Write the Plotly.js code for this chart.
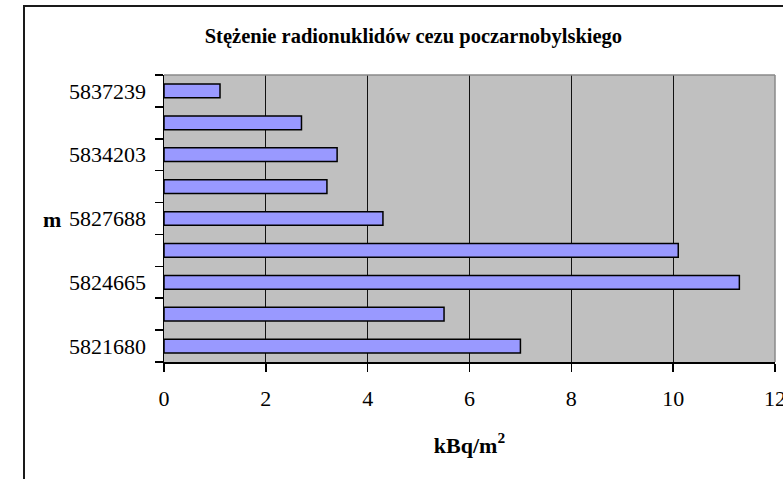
<!DOCTYPE html>
<html>
<head>
<meta charset="utf-8">
<script src="https://cdn.plot.ly/plotly-3.0.1.min.js"></script>
<style>
  html, body { margin: 0; padding: 0; background: #fff; }
  #wrap { position: relative; width: 783px; height: 479px; }
  #chart { width: 783px; height: 479px; }
  #frame { position: absolute; left: 23px; top: 5px; width: 800px; height: 500px;
           border-left: 2px solid #1a1a1a; border-top: 2px solid #1a1a1a; pointer-events: none; }
</style>
</head>
<body>
<div id="wrap">
  <div id="chart"></div>
  <div id="frame"></div>
</div>
<script>
// Data (bottom to top)
const categories = ["5821680", " ", "5824665", "  ", "5827688", "   ", "5834203", "    ", "5837239"];
const values = [7.0, 5.5, 11.3, 10.1, 4.3, 3.2, 3.4, 2.7, 1.1];
const xTicks = [0, 2, 4, 6, 8, 10, 12];
const titleText = "Stężenie radionuklidów cezu poczarnobylskiego";
const xTitle = "kBq/m<sup>2</sup>";
const yTitle = "m";

const serif = "'Liberation Serif', 'Times New Roman', serif";

const trace = {
  type: "bar",
  orientation: "h",
  x: values,
  y: categories,
  width: 0.43,
  marker: { color: "#9999FF", line: { color: "#000000", width: 1.5 } },
  hoverinfo: "skip"
};

const layout = {
  width: 783,
  height: 479,
  margin: { l: 164, r: 8, t: 75, b: 117 },
  paper_bgcolor: "#ffffff",
  plot_bgcolor: "#C0C0C0",
  showlegend: false,
  font: { family: serif, color: "#000", size: 22 },
  title: {
    text: "<b>" + titleText + "</b>",
    font: { family: serif, size: 20.5, color: "#000" },
    x: 0.528, xref: "container", xanchor: "center",
    y: 1 - 36 / 479, yref: "container", yanchor: "middle"
  },
  xaxis: {
    range: [0, 12],
    tickvals: xTicks,
    ticktext: xTicks.map(String),
    ticklabeloverflow: "allow",
    ticklabelstandoff: 8,
    showgrid: true,
    gridcolor: "#111",
    gridwidth: 1,
    zeroline: false,
    showline: true,
    linecolor: "#000",
    linewidth: 1.5,
    ticks: "outside",
    ticklen: 8,
    tickwidth: 1.5,
    tickcolor: "#000",
    tickfont: { family: serif, size: 22, color: "#000" },
    title: { text: "<b>" + xTitle + "</b>", font: { family: serif, size: 22, color: "#000" }, standoff: 27 },
    fixedrange: true
  },
  yaxis: {
    type: "category",
    categoryorder: "array",
    categoryarray: categories,
    range: [-0.5, 8.5],
    tickson: "boundaries",
    ticks: "outside",
    ticklen: 8,
    tickwidth: 1.5,
    tickcolor: "#000",
    showgrid: false,
    showline: true,
    linecolor: "#000",
    linewidth: 1.5,
    tickfont: { family: serif, size: 22, color: "#000" },
    ticklabelstandoff: 12,
    fixedrange: true
  },
  shapes: [
    { type: "line", xref: "paper", yref: "paper", x0: 0, x1: 1, y0: 1, y1: 1, line: { color: "#8a8a8a", width: 1.5 }, layer: "above" },
    { type: "line", xref: "paper", yref: "paper", x0: 1, x1: 1, y0: 0, y1: 1, line: { color: "#8a8a8a", width: 1.5 }, layer: "above" }
  ],
  annotations: [
    { text: "<b>" + yTitle + "</b>", xref: "paper", yref: "paper", x: -0.183, y: 0.495,
      xanchor: "center", yanchor: "middle", showarrow: false,
      font: { family: serif, size: 22, color: "#000" } }
  ]
};

Plotly.newPlot("chart", [trace], layout, { staticPlot: true, displayModeBar: false });
</script>
</body>
</html>
